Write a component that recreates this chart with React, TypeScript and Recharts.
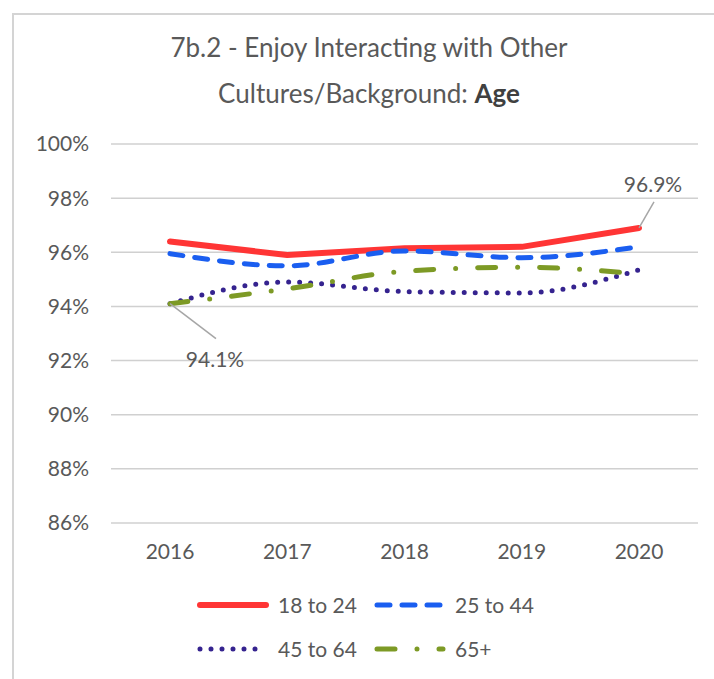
import { LineChart, Line, XAxis, YAxis, CartesianGrid, LabelList } from "recharts";

const years = ["2016", "2017", "2018", "2019", "2020"];
const age18to24 = [96.4, 95.9, 96.15, 96.2, 96.9];
const age25to44 = [95.95, 95.5, 96.05, 95.8, 96.2];
const age45to64 = [94.1, 94.9, 94.55, 94.5, 95.35];
const age65plus = [94.1, 94.65, 95.3, 95.45, 95.2];
const yTicks = [86, 88, 90, 92, 94, 96, 98, 100];

const chartData = years.map((y, i) => ({
  year: y,
  a: age18to24[i],
  b: age25to44[i],
  c: age45to64[i],
  d: age65plus[i],
}));

const font = "'Century Gothic', Lato, 'DejaVu Sans', sans-serif";
const textColor = "#595959";

const series = [
  { key: "a", name: "18 to 24", color: "#ff3535", width: 6, dash: undefined, curve: "linear" },
  { key: "b", name: "25 to 44", color: "#1a5ef0", width: 5, dash: "13 12", curve: "monotone" },
  { key: "c", name: "45 to 64", color: "#35238f", width: 5, dash: "0 11", curve: "monotone" },
  { key: "d", name: "65+", color: "#7d9a25", width: 5, dash: "18 22 0 22", curve: "monotone" },
];

// leader line + value label for one point
const callout = (idx: number, dx: number, dy: number, tx: number, ty: number) =>
  (props: any) => {
    const { x, y, index, value } = props;
    if (index !== idx) return null;
    return (
      <g>
        <line x1={x} y1={y} x2={x + dx} y2={y + dy} stroke="#a6a6a6" strokeWidth={1.5} />
        <text x={x + tx} y={y + ty} textAnchor="middle" fontSize={21} fill={textColor} fontFamily={font}>
          {value.toFixed(1)}%
        </text>
      </g>
    );
  };

function LegendItem({ s }: { s: (typeof series)[number] }) {
  return (
    <div style={{ display: "flex", alignItems: "center", width: 177 }}>
      <svg width={76} height={12}>
        <line
          x1={4}
          y1={6}
          x2={70}
          y2={6}
          stroke={s.color}
          strokeWidth={s.width}
          strokeDasharray={s.dash}
          strokeLinecap="round"
        />
      </svg>
      <span style={{ marginLeft: 6, fontSize: 21, color: textColor }}>{s.name}</span>
    </div>
  );
}

export default function App() {
  return (
    <div
      style={{
        position: "absolute",
        left: 0,
        top: 0,
        width: 714,
        height: 679,
        background: "#fff",
        fontFamily: font,
        overflow: "hidden",
      }}
    >
      <div
        style={{
          position: "absolute",
          left: 12,
          top: 13,
          width: 720,
          height: 700,
          border: "2px solid #d4d4d4",
        }}
      />
      <div
        style={{
          position: "absolute",
          left: 0,
          top: 24,
          width: 738,
          textAlign: "center",
          fontSize: 26,
          lineHeight: "46px",
          color: textColor,
        }}
      >
        7b.2 - Enjoy Interacting with Other
        <br />
        Cultures/Background: <b style={{ color: "#404040" }}>Age</b>
      </div>
      <div style={{ position: "absolute", left: 0, top: 0 }}>
        <LineChart
          width={714}
          height={679}
          data={chartData}
          margin={{ top: 144, right: 16, bottom: 126, left: 31 }}
        >
          <CartesianGrid vertical={false} stroke="#d0d0d0" strokeWidth={1.5} />
          <XAxis
            dataKey="year"
            height={30}
            padding={{ left: 59, right: 59 }}
            axisLine={false}
            tickLine={false}
            tickSize={0}
            tickMargin={21}
            tick={{ fontSize: 21, fill: textColor, fontFamily: font }}
          />
          <YAxis
            width={80}
            domain={[86, 100]}
            ticks={yTicks}
            interval={0}
            axisLine={false}
            tickLine={false}
            tickSize={0}
            tickMargin={22}
            tickFormatter={(v: number) => `${v}%`}
            tick={{ fontSize: 21, fill: textColor, fontFamily: font }}
          />
          {series.map((s) => (
            <Line
              key={s.key}
              dataKey={s.key}
              name={s.name}
              type={s.curve as any}
              stroke={s.color}
              strokeWidth={s.width}
              strokeDasharray={s.dash}
              strokeLinecap="round"
              strokeLinejoin="round"
              dot={false}
              activeDot={false}
              isAnimationActive={false}
            >
              {s.key === "a" && <LabelList dataKey="a" content={callout(4, 15, -26, 14, -36)} />}
              {s.key === "c" && <LabelList dataKey="c" content={callout(0, 46, 35, 45, 63)} />}
            </Line>
          ))}
        </LineChart>
      </div>
      <div style={{ position: "absolute", left: 196, top: 592 }}>
        <div style={{ display: "flex" }}>
          <LegendItem s={series[0]} />
          <LegendItem s={series[1]} />
        </div>
        <div style={{ display: "flex", marginTop: 19 }}>
          <LegendItem s={series[2]} />
          <LegendItem s={series[3]} />
        </div>
      </div>
    </div>
  );
}
